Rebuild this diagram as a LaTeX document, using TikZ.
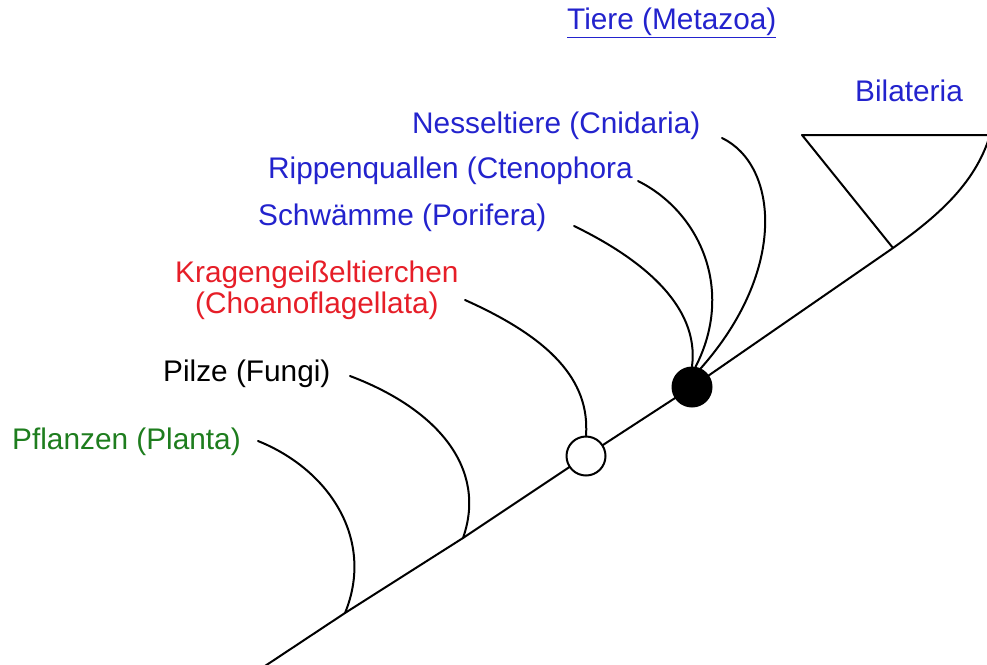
\documentclass[tikz,border=0pt]{standalone}
\usepackage{fontspec}
\setmainfont{Liberation Sans}
\definecolor{tblue}{RGB}{35,35,205}
\definecolor{tred}{RGB}{230,30,40}
\definecolor{tgreen}{RGB}{30,125,30}
\begin{document}
\begin{tikzpicture}[x=1pt,y=-1pt,
  lab/.style={anchor=west,inner sep=0pt,font=\fontsize{29.8}{32}\selectfont},
  branch/.style={line width=2pt,line cap=round},
  trunk/.style={line width=2pt},
  dot/.style={circle,draw,line width=2pt,minimum size=39pt,inner sep=0pt}]
\useasboundingbox (0,0) rectangle (987,664);
% labels
\node[lab,text=tblue] (met) at (567,23) {\underline{Tiere (Metazoa)}};
\node[lab,text=tblue] (bil) at (855,91) {Bilateria};
\node[lab,text=tblue] (cni) at (412,126) {Nesseltiere (Cnidaria)};
\node[lab,text=tblue] (cte) at (268,171) {Rippenquallen (Ctenophora};
\node[lab,text=tblue] (por) at (258,218) {Schwämme (Porifera)};
\node[lab,text=tred,align=center,anchor=north west,font=\fontsize{29.8}{30.5}\selectfont] (cho) at (175,261) {Kragengeißeltierchen\\(Choanoflagellata)};
\node[lab,text=black] (fun) at (163,374) {Pilze (Fungi)};
\node[lab,text=tgreen] (pla) at (12,442) {Pflanzen (Planta)};
% junction coordinates
\coordinate (root) at (265,666);
\coordinate (j1) at (345,613);
\coordinate (j2) at (463,538);
\coordinate (c1) at (586,456);
\coordinate (c2) at (692,387);
\coordinate (jb) at (893,248);
\coordinate (tl) at (802,135);
\coordinate (tr) at (990,135);
\coordinate (ts) at (990,135);
% trunk
\draw[trunk] (root) -- (j1) -- (j2) -- (c1) -- (c2) -- (jb) .. controls (935,218) and (975,185) .. (ts);
\draw[trunk,line join=round] (tr) -- (tl) -- (jb);
% branch start points
\coordinate (sp) at (258,441);
\coordinate (sf) at (350,376);
\coordinate (sc) at (465,300);
\coordinate (ss) at (574,226);
\coordinate (sr) at (638,181);
\coordinate (sn) at (722,138);
\node[dot,fill=white] (w) at (c1) {};
\draw[branch] (sp) .. controls (330,470) and (375,540) .. (j1);
\draw[branch] (sf) .. controls (440,410) and (487,470) .. (j2);
\draw[branch] (sc) .. controls (550,338) and (590,380) .. (w.north);
\node[dot,fill=black] (b) at (c2) {};
\draw[branch] (ss) .. controls (640,258) and (700,305) .. (b.north);
\draw[branch] (sr) .. controls (700,212) and (735,290) .. (b.80);
\draw[branch] (sn) .. controls (778,165) and (788,270) .. (b.65);
\end{tikzpicture}
\end{document}
